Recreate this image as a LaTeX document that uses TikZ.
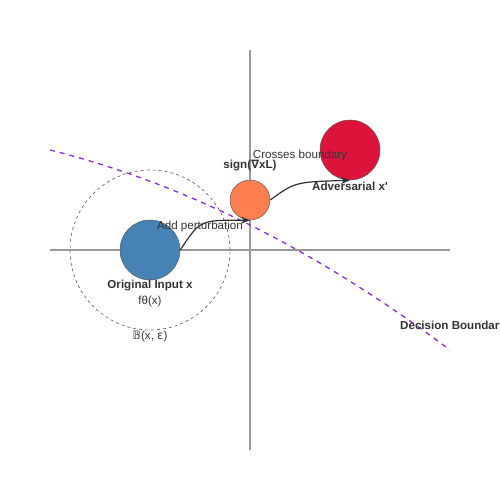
\documentclass[tikz,border=0pt]{standalone}
\usepackage{fontspec}
\setmainfont{Liberation Sans}
\newfontfamily\symfont{DejaVu Sans}
\usetikzlibrary{arrows.meta}
\definecolor{txt}{HTML}{333333}
\definecolor{axisgray}{HTML}{999999}
\definecolor{steel}{HTML}{4682B4}
\definecolor{coral}{HTML}{FF7F50}
\definecolor{crim}{HTML}{DC143C}
\definecolor{bviolet}{HTML}{8A2BE2}
\tikzset{
  lbl/.style={text=txt, font=\fontsize{11.6}{14}\selectfont, inner sep=0pt},
  blbl/.style={lbl, font=\fontsize{11.6}{14}\selectfont\bfseries},
  pt/.style={circle, draw=txt!80, line width=0.5pt, inner sep=0pt},
  flow/.style={draw=txt, line width=1.2pt, -{Stealth[length=9pt,width=7pt]}},
}
\begin{document}
\begin{tikzpicture}[x=1pt,y=-1pt]
\useasboundingbox (0,0) rectangle (500,500);
\clip (0,0) rectangle (500,500);
% axes
\draw[axisgray, line width=1.2pt] (50,250) -- (450,250);
\draw[axisgray, line width=1.2pt] (250,50) -- (250,450);
% epsilon ball
\node[circle, draw=txt!80, dash pattern=on 3pt off 3pt, line width=0.6pt, minimum size=160pt, inner sep=0pt] (ball) at (150,250) {};
% decision boundary
\coordinate (db0) at (50,150);
\coordinate (db1) at (450,350);
\draw[bviolet, line width=1.3pt, dash pattern=on 5pt off 5pt] (db0) .. controls (183.3,183.3) and (316.7,250) .. (db1);
% points
\node[pt, fill=steel, minimum size=60pt] (x) at (150,250) {};
\node[pt, fill=coral, minimum size=40pt] (g) at (250,200) {};
\node[pt, fill=crim, minimum size=60pt] (adv) at (350,150) {};
% arrows
\draw[flow] (x.east) .. controls (200,220) .. (g.south);
\draw[flow] (g.east) .. controls (295,182) .. (adv.south);
% labels
\node[blbl] (lx) at (150,286) {Original Input x};
\node[lbl] (lf) at (150,301) {fθ(x)};
\node[lbl] (lb) at (150,336) {{\symfont 𝔹}(x, {\symfont ε})};
\node[lbl] (lp) at (200,226) {Add perturbation};
\node[blbl] (lg) at (250,166) {sign({\symfont ∇}xL)};
\node[lbl] (lc) at (300,156) {Crosses boundary};
\node[blbl] (la) at (350,186) {Adversarial x\textquotesingle};
\node[blbl, anchor=west] (ld) at (400,326) {Decision Boundary};
\end{tikzpicture}
\end{document}
